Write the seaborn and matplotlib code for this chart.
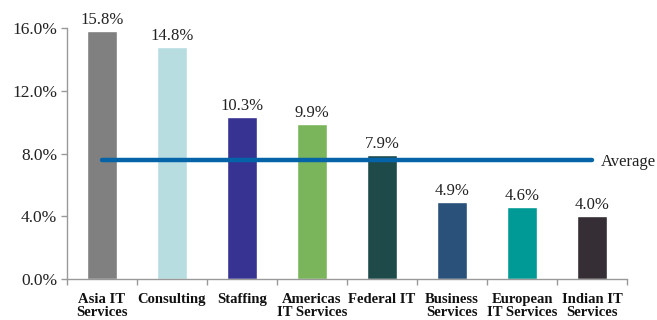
import matplotlib
matplotlib.use("Agg")
import matplotlib.pyplot as plt
import seaborn as sns
import pandas as pd
from matplotlib.ticker import FuncFormatter, FixedLocator

categories = ["Asia IT\nServices", "Consulting", "Staffing", "Americas\nIT Services",
              "Federal IT", "Business\nServices", "European\nIT Services", "Indian IT\nServices"]
growth = [15.8, 14.8, 10.3, 9.9, 7.9, 4.9, 4.6, 4.0]
average = 7.6
colors = ["#808080", "#B8DDE1", "#373393", "#7AB55C", "#1F4A4A", "#2A517A", "#009A96", "#352E35"]

sns.set_theme(style="white")
plt.rcParams["font.family"] = ["Liberation Serif", "DejaVu Serif"]

df = pd.DataFrame({"category": categories, "growth": growth})

fig = plt.figure(figsize=(6.57, 3.2), dpi=100)
ax = fig.add_axes([67 / 657, 41 / 320, 560 / 657, 251 / 320])

sns.barplot(data=df, x="category", y="growth", hue="category", palette=colors,
            legend=False, width=0.42, saturation=1, ax=ax)

for i, v in enumerate(growth):
    ax.text(i, v + 0.2, f"{v:.1f}%", ha="center", va="bottom", fontsize=12, color="#222222")

ax.plot([0, len(categories) - 1], [average, average], color="#0563A8", lw=3.2,
        solid_capstyle="round", zorder=3)
ax.text(len(categories) - 1 + 0.13, average - 0.15, "Average", ha="left", va="center",
        fontsize=12, color="#222222")

ax.set_xlim(-0.5, len(categories) - 0.5)
ax.set_ylim(0, 16)
ax.set_yticks([0, 4, 8, 12, 16])
ax.yaxis.set_major_formatter(FuncFormatter(lambda y, _: f"{y:.1f}%"))
ax.set_xlabel("")
ax.set_ylabel("")

for s in ["top", "right"]:
    ax.spines[s].set_visible(False)
for s in ["left", "bottom"]:
    ax.spines[s].set_color("#999999")
    ax.spines[s].set_linewidth(1)

ax.tick_params(axis="y", which="major", left=True, length=4, width=1, color="#999999",
               labelsize=12.5, labelcolor="#222222", pad=3)
ax.tick_params(axis="x", which="major", bottom=False, labelsize=10.5, pad=4)
ax.xaxis.set_minor_locator(FixedLocator([k - 0.5 for k in range(len(categories) + 1)]))
ax.tick_params(axis="x", which="minor", bottom=True, length=4, width=1, color="#999999")
for lbl in ax.get_xticklabels():
    lbl.set_fontweight("bold")
    lbl.set_color("#111111")
    lbl.set_linespacing(1.0)

fig.savefig("out.png", dpi=100)
